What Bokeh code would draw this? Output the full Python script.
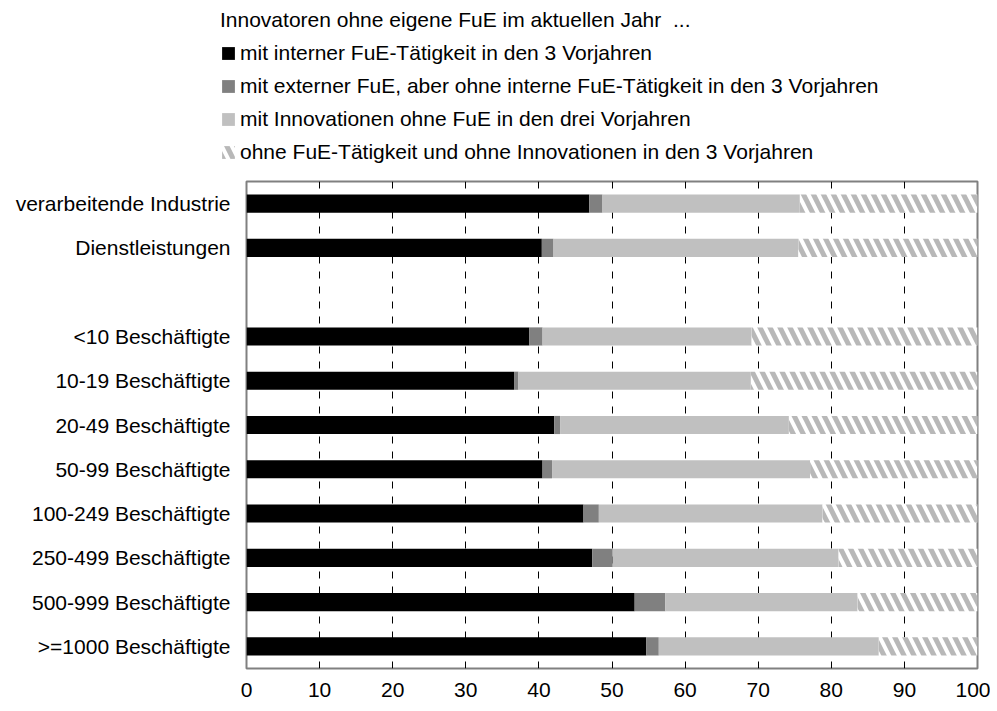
from bokeh.plotting import figure
from bokeh.models import FactorRange, Legend, LegendItem, FixedTicker
from bokeh.layouts import column
from bokeh.embed import file_html
from bokeh.resources import INLINE

categories = ["verarbeitende Industrie", "Dienstleistungen", " ",
              "<10 Beschäftigte", "10-19 Beschäftigte", "20-49 Beschäftigte",
              "50-99 Beschäftigte", "100-249 Beschäftigte", "250-499 Beschäftigte",
              "500-999 Beschäftigte", ">=1000 Beschäftigte"]
intern = [46.9, 40.4, 0, 38.7, 36.6, 42.1, 40.5, 46.1, 47.3, 53.1, 54.7]
extern = [1.8, 1.6, 0, 1.8, 0.6, 0.8, 1.3, 2.1, 2.8, 4.2, 1.7]
ohne_fue = [27.0, 33.5, 0, 28.6, 31.8, 31.3, 35.3, 30.6, 30.9, 26.3, 30.1]
ohne_alles = [24.3, 24.5, 0, 30.9, 31.0, 25.8, 22.9, 21.2, 19.0, 16.4, 13.5]
series_labels = ["mit interner FuE-Tätigkeit in den 3 Vorjahren",
                 "mit externer FuE, aber ohne interne FuE-Tätigkeit in den 3 Vorjahren",
                 "mit Innovationen ohne FuE in den drei Vorjahren",
                 "ohne FuE-Tätigkeit und ohne Innovationen in den 3 Vorjahren"]
legend_title = "Innovatoren ohne eigene FuE im aktuellen Jahr  ..."
x_ticks = [0, 10, 20, 30, 40, 50, 60, 70, 80, 90, 100]

FONT = "Liberation Sans"
W = 990
TOP_H = 179

styles = [dict(fill_color="#000000"), dict(fill_color="#808080"),
          dict(fill_color="#c0c0c0"),
          dict(fill_color="#ffffff", hatch_pattern="\\", hatch_color="#b8b8b8",
               hatch_weight=5, hatch_scale=20)]


def add_stacked_bars(fig, visible=True):
    rs = []
    cum = [0] * len(categories)
    for vals, st in zip([intern, extern, ohne_fue, ohne_alles], styles):
        left = list(cum)
        right = [c + v for c, v in zip(cum, vals)]
        r = fig.hbar(y=categories, left=left, right=right, height=0.41,
                     line_color=None, **st)
        r.visible = visible
        rs.append(r)
        cum = right
    return rs


# ---- legend strip (top) ----
top = figure(width=W, height=TOP_H, output_backend="svg", toolbar_location=None,
             x_range=(0, 100), y_range=FactorRange(factors=list(reversed(categories))),
             min_border=0, x_axis_location=None, y_axis_location=None)
top.frame_align = False
top.outline_line_color = None
top.grid.grid_line_color = None
leg_renderers = add_stacked_bars(top, visible=False)

legend = Legend(items=[LegendItem(label=l, renderers=[r]) for l, r in zip(series_labels, leg_renderers)],
                location=(220, 15), title=legend_title)
legend.title_text_font = FONT
legend.title_text_font_size = "21px"
legend.title_text_font_style = "normal"
legend.title_text_color = "#000000"
legend.title_standoff = 9
legend.label_text_font = FONT
legend.label_text_font_size = "21px"
legend.label_text_color = "#000000"
legend.glyph_width = 16
legend.glyph_height = 16
legend.label_height = 20
legend.label_standoff = 4
legend.spacing = 9
legend.padding = 0
legend.margin = 0
legend.border_line_color = None
legend.background_fill_alpha = 0
top.add_layout(legend, "center")

# ---- main chart ----
p = figure(width=W, height=524, output_backend="svg", toolbar_location=None,
           y_range=FactorRange(factors=list(reversed(categories))),
           x_range=(0, 100), min_border_left=246, min_border_right=13,
           min_border_top=2, min_border_bottom=35)
p.frame_align = False
p.outline_line_color = "#808080"
p.outline_line_width = 2
add_stacked_bars(p)

p.xgrid.ticker = FixedTicker(ticks=x_ticks)
p.xgrid.grid_line_color = "#000000"
p.xgrid.grid_line_dash = "7 8"
p.xgrid.grid_line_width = 1
p.ygrid.grid_line_color = None

p.xaxis.ticker = FixedTicker(ticks=x_ticks)
p.xaxis.axis_line_color = None
p.xaxis.major_tick_line_color = None
p.xaxis.minor_tick_line_color = None
p.xaxis.major_label_text_font = FONT
p.xaxis.major_label_text_font_size = "21px"
p.xaxis.major_label_text_color = "#000000"
p.xaxis.major_label_standoff = 8

p.yaxis.axis_line_color = None
p.yaxis.major_tick_line_color = None
p.yaxis.major_label_text_font = FONT
p.yaxis.major_label_text_font_size = "21px"
p.yaxis.major_label_text_color = "#000000"
p.yaxis.major_label_standoff = 10

layout = column(top, p, spacing=0)
open("out.html", "w").write(file_html(layout, INLINE))
